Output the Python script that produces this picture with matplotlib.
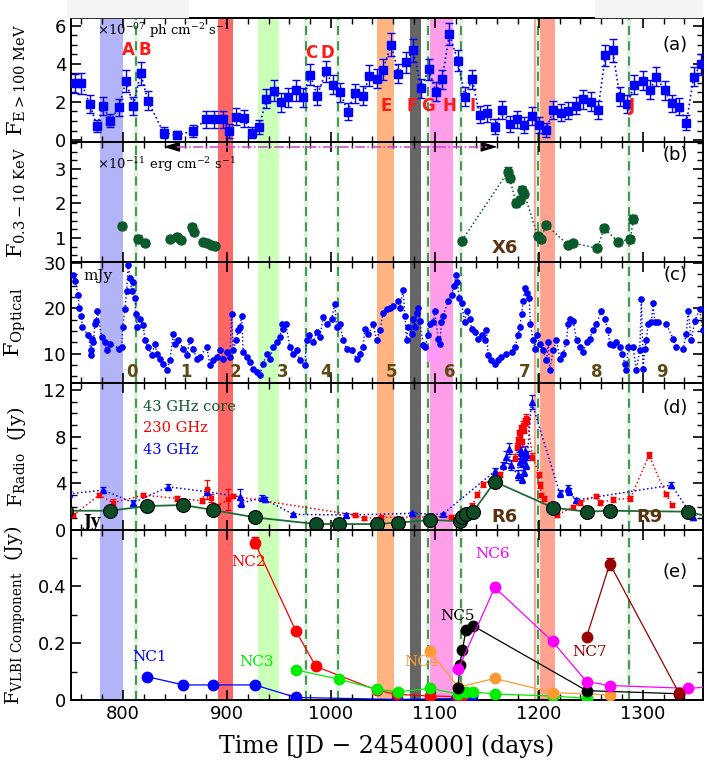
import matplotlib
matplotlib.use('Agg')
import matplotlib.pyplot as plt
from matplotlib.patches import Rectangle
from matplotlib.ticker import MultipleLocator, FuncFormatter

plt.rcParams['font.family'] = 'DejaVu Sans'
plt.rcParams['mathtext.fontset'] = 'dejavuserif'

# ---------------- data ----------------
# panel (a): Fermi gamma-ray flux
gam_day = [754, 760, 768, 775, 781, 788, 796, 803, 810, 817, 824, 839, 852, 867, 880, 888, 896,
           902, 909, 916, 924, 931, 938, 945, 952, 959, 966, 973, 980, 987, 995, 1002, 1009, 1016,
           1023, 1031, 1037, 1044, 1050, 1058, 1065, 1072, 1079, 1087, 1094, 1101, 1107, 1114,
           1122, 1129, 1136, 1143, 1150, 1158, 1165, 1172, 1179, 1186, 1193, 1200, 1207, 1214,
           1221, 1228, 1236, 1243, 1250, 1257, 1264, 1271, 1278, 1285, 1292, 1300, 1307, 1313,
           1321, 1328, 1335, 1342, 1349, 1356]
gam_flux = [2.98, 2.98, 1.89, 0.74, 1.79, 1.02, 1.72, 3.1, 1.79, 3.51, 2.07, 0.39, 0.26, 0.47,
            1.09, 1.09, 1.09, 0.47, 1.23, 1.14, 0.39, 0.68, 2.16, 2.58, 1.98, 2.25, 2.6, 2.25,
            3.42, 2.33, 3.6, 2.89, 2.51, 1.49, 2.46, 2.32, 3.37, 3.21, 3.68, 5.0, 3.47, 4.09,
            4.7, 2.72, 3.72, 2.54, 3.19, 5.56, 4.17, 2.28, 3.19, 1.32, 1.40, 0.7, 1.58, 0.84,
            1.09, 0.79, 1.26, 0.79, 0.53, 1.58, 1.44, 1.54, 1.81, 2.14, 2.02, 1.58, 4.44, 4.7,
            2.28, 1.89, 2.89, 3.12, 2.63, 3.33, 2.6, 1.93, 1.75, 0.91, 3.33, 3.98]
gam_err = [0.5, 0.55, 0.45, 0.3, 0.45, 0.35, 0.45, 0.6, 0.45, 0.6, 0.5, 0.3, 0.2, 0.3,
           0.45, 0.45, 0.45, 0.35, 0.45, 0.45, 0.3, 0.35, 0.5, 0.55, 0.5, 0.5, 0.55, 0.5,
           0.55, 0.5, 0.55, 0.5, 0.5, 0.45, 0.5, 0.5, 0.55, 0.5, 0.55, 0.6, 0.5, 0.55,
           0.6, 0.5, 0.55, 0.5, 0.5, 0.6, 0.55, 0.5, 0.5, 0.45, 0.45, 0.4, 0.45, 0.4,
           0.45, 0.4, 0.45, 0.4, 0.35, 0.45, 0.45, 0.45, 0.45, 0.5, 0.5, 0.45, 0.55, 0.6,
           0.5, 0.45, 0.5, 0.5, 0.5, 0.5, 0.5, 0.45, 0.45, 0.4, 0.5, 0.55]

# panel (b): X-ray 0.3-10 keV
xr_day = [799, 814, 821, 845, 852, 856, 866, 868, 877, 881, 885, 889, 1126, 1170, 1172, 1178,
          1182, 1184, 1186, 1199, 1202, 1207, 1228, 1233, 1256, 1263, 1276, 1288, 1291]
xr_flux = [1.35, 0.97, 0.85, 0.97, 1.04, 0.94, 1.31, 1.18, 0.89, 0.86, 0.80, 0.77, 0.92, 2.9,
           2.73, 2.02, 2.1, 2.39, 2.28, 1.06, 0.96, 1.38, 0.8, 0.85, 0.70, 1.28, 0.89, 0.96, 1.55]
xr_err = [0.07, 0.1, 0.08, 0.06, 0.08, 0.07, 0.1, 0.07, 0.05, 0.05, 0.05, 0.05, 0.05, 0.15,
          0.1, 0.12, 0.1, 0.12, 0.1, 0.08, 0.08, 0.08, 0.06, 0.06, 0.06, 0.1, 0.08, 0.1, 0.12]

# panel (c): optical flux (mJy)
opt_day = [752.2, 754, 757, 757.7, 760, 761, 766.7, 769, 769.5, 769.9, 771.5, 773, 774.5, 775.3,
           779.5, 782.3, 784.3, 787.5, 796.4, 798.7, 799.7, 801.9, 803.5, 805.1, 806.7, 808.4,
           809.9, 811.5, 812.5, 813.8, 816.3, 819.5, 821.2, 824.3, 827.6, 830.8, 832.4, 835.6,
           838.8, 842, 845.2, 848.4, 850, 853.2, 858, 861.3, 864.4, 867.6, 870.9, 874, 880.5,
           883.7, 886.8, 890, 893.3, 896.4, 899.7, 902.9, 904.5, 906.1, 908.7, 910.9, 912.5,
           914.1, 915.7, 919, 922.1, 925.3, 928.6, 931.7, 934.9, 938.2, 941.3, 944.5, 947.8,
           951, 952.6, 954.1, 956.7, 960.6, 963.8, 967, 970.2, 975, 976.6, 979.1, 983, 986.2,
           989.4, 992.6, 995.8, 1000.7, 1003.8, 1005.5, 1008.7, 1011.9, 1015.1, 1019.9, 1024.7,
           1027.9, 1031.1, 1032.7, 1035.9, 1040.7, 1043.9, 1047.1, 1050.3, 1053.6, 1056.7,
           1059.9, 1064.7, 1066.3, 1069.5, 1071.2, 1072.8, 1074.4, 1077.6, 1079.2, 1080.8,
           1082.4, 1084, 1085.6, 1088.8, 1090.4, 1093.6, 1095.2, 1098.4, 1100, 1103.2, 1104.8,
           1106.4, 1108, 1112.8, 1116.1, 1118.3, 1120.2, 1121.5, 1123.4, 1125.7, 1128.8,
           1130.5, 1133.7, 1135.3, 1138.5, 1141.6, 1144.9, 1148.1, 1149.7, 1151.3, 1154.5,
           1157.7, 1160.9, 1164.1, 1168.9, 1173.8, 1176.9, 1180.1, 1181.7, 1183.4, 1184.9,
           1186.5, 1188.2, 1190.7, 1192, 1194.5, 1196.2, 1197.8, 1201, 1204.1, 1207.4, 1209,
           1210.6, 1213.8, 1217, 1220.2, 1223.4, 1226.6, 1228.2, 1229.8, 1233, 1236.3, 1239.4,
           1242.6, 1245.9, 1249, 1252.2, 1255.5, 1260.3, 1263.5, 1266.6, 1268.3, 1271.4,
           1274.7, 1277.9, 1280.4, 1282.7, 1284.3, 1285.9, 1290.7, 1293.9, 1297.1, 1298.7,
           1300.3, 1301.9, 1303.5, 1305.1, 1308.4, 1310, 1311.5, 1314.7, 1322.8, 1329.1,
           1332.4, 1338.8, 1342, 1343.6, 1346.8, 1350, 1354.8, 1357.7]
opt_flux = [27.4, 26.0, 23.0, 20.1, 18.3, 15.8, 14.0, 10.7, 9.6, 13.3, 12.5, 16.5, 17.2, 19.4,
            13.6, 12.5, 10.7, 12.2, 11.1, 11.4, 15.8, 19.8, 23.8, 29.6, 26.7, 23.8,
            25.9, 22.3, 18.7, 15.8, 17.6, 16.2, 12.9, 11.4, 9.6, 12.2, 10.0, 8.9,
            7.8, 6.4, 8.5, 14.3, 12.2, 12.9, 11.1, 9.6, 12.9, 11.1, 8.9, 9.3, 11.4,
            7.5, 8.5, 9.3, 10.7, 8.9, 10.3, 9.3, 18.7, 10.7, 12.9, 15.1, 15.8,
            18.3, 10.3, 9.3, 8.2, 6.7, 6.0, 5.3, 7.8, 10.0, 8.9, 11.4, 12.5,
            13.6, 16.5, 15.4, 16.5, 11.4, 10.0, 10.7, 8.5, 7.5, 12.9, 14.0, 12.5, 14.7,
            13.6, 18.0, 16.5, 17.6, 20.9, 15.8, 16.5, 12.9, 11.1, 10.7, 8.9,
            10.0, 11.4, 15.4, 14.3, 16.5, 12.9, 15.1, 19.0, 19.8, 20.1,
            20.5, 21.6, 20.1, 24.1, 18.3, 12.9, 15.8, 14.3, 17.6, 15.8,
            19.0, 20.1, 17.2, 11.8, 11.4, 14.0, 16.5, 16.9, 19.4, 13.3, 12.2,
            16.9, 18.3, 21.6, 23.0, 24.8, 27.4, 25.9, 22.3, 21.2, 16.9,
            19.4, 17.6, 15.4, 14.7, 13.3, 14.0, 12.9, 15.1, 9.6, 8.5,
            7.8, 8.5, 9.3, 10.0, 10.3, 11.4, 14.0, 15.8, 18.7, 21.6,
            24.5, 23.4, 22.3, 16.5, 12.9, 11.1, 14.0, 12.2, 10.7, 8.5, 12.5,
            6.4, 10.7, 12.9, 8.9, 10.0, 12.5, 16.5, 17.6, 17.2, 12.9, 11.4,
            10.3, 12.5, 13.3, 15.1, 16.5, 19.4, 17.6, 15.1, 12.2, 11.8,
            12.5, 11.4, 10.0, 7.8, 6.4, 11.4, 11.4, 6.4, 10.7, 22.0,
            6.7, 11.1, 12.9, 16.5, 16.9, 21.2, 16.9, 16.9, 16.5, 13.3,
            11.4, 11.1, 14.3, 19.4, 12.9, 17.2, 19.8, 15.1]

# panel (d): radio
core_day = [745, 787.5, 822.8, 858, 886.8, 926.9, 985.6, 1008, 1043.9, 1064.7, 1095.2, 1124,
            1125.7, 1130.4, 1136.8, 1157.7, 1213.8, 1245.9, 1268.3, 1343.6, 1365]
core_flux = [1.65, 1.65, 2.05, 2.14, 1.71, 1.08, 0.51, 0.51, 0.51, 0.63, 0.85, 0.77,
             1.14, 1.34, 1.57, 4.13, 1.91, 1.57, 1.65, 1.57, 1.1]

r230_day = [752.2, 777.2, 790.7, 819.5, 851.6, 875.7, 880.5, 884.3, 890.7, 901.3, 906.1, 1023.1,
            1031.7, 1047.8, 1116, 1124, 1136.2, 1140.7, 1146.5, 1162.5, 1176.9, 1179.2, 1180,
            1181, 1182, 1183, 1184, 1185, 1186, 1187, 1188, 1189, 1193.9, 1200.3, 1201, 1202.5,
            1204.8, 1217.6, 1233, 1239.4, 1254.8, 1258.7, 1271.4, 1288.2, 1306.1, 1322.1, 1328.6]
r230_flux = [1.28, 2.99, 2.34, 2.99, 2.71, 2.51, 3.48, 2.71, 2.05, 2.62, 2.9, 1.28,
             1.0, 1.08, 1.14, 1.42, 2.08, 3.05, 3.9, 4.76, 6.18, 7.12, 7.7,
             8.3, 7.9, 8.7, 7.5, 9.0, 8.6, 9.3, 9.6, 9.4, 6.27, 4.76, 3.85, 2.99,
             2.71, 1.28, 1.99, 2.34, 2.9, 2.34, 2.62, 2.71, 6.41, 3.08, 2.14]
r230_err = [0.2, 0.2, 0.35, 0.2, 0.2, 0.2, 0.8, 0.35, 0.2, 0.9, 0.2, 0.15,
            0.15, 0.15, 0.15, 0.15, 0.2, 0.2, 0.2, 0.25, 0.3, 0.3, 0.3,
            0.3, 0.3, 0.3, 0.3, 0.3, 0.3, 0.3, 0.3, 0.3, 0.3, 0.25, 0.25, 0.2,
            0.2, 0.15, 0.15, 0.2, 0.2, 0.2, 0.2, 0.2, 0.25, 0.2, 0.2]

r43_day = [748, 781.1, 809.9, 843.6, 880.5, 912.5, 913.5, 933.4, 936.5, 963.8, 1014.4, 1077.6,
           1107.4, 1157.7, 1165.1, 1168.9, 1171.4, 1172.8, 1180, 1181, 1182, 1183, 1184, 1185,
           1186, 1187, 1188, 1189, 1193, 1220.2, 1228.2, 1229, 1235.6, 1327.6, 1348.4]
r43_flux = [3.1, 3.42, 2.34, 3.7, 3.28, 2.85, 2.3, 2.76, 2.62, 1.34, 1.28, 1.42,
            1.34, 5.04, 5.56, 6.27, 6.98, 5.56, 4.7, 7.1, 5.8, 6.7, 4.4, 6.1,
            5.0, 6.8, 5.6, 6.4, 11.0, 3.13, 3.56, 3.3, 2.56, 3.85, 1.08]
r43_err = [0.2, 0.25, 0.2, 0.25, 0.25, 0.7, 0.3, 0.2, 0.2, 0.15, 0.15, 0.15,
           0.15, 0.3, 0.3, 0.5, 0.5, 0.4, 0.4, 0.4, 0.4, 0.4, 0.4, 0.4,
           0.4, 0.4, 0.4, 0.4, 0.6, 0.3, 0.3, 0.3, 0.2, 0.25, 0.2]

# panel (e): VLBI components (Jy)
nc1_day = [823.4, 858, 886.8, 926.9, 966.3, 1063.2, 1120, 1124, 1128, 1132, 1136]
nc1_flux = [0.082, 0.053, 0.053, 0.053, 0.009, 0.002, 0.005, 0.012, 0.015, 0.015, 0.015]
nc2_day = [926.9, 966.3, 985.6, 1044, 1063.2, 1095.2, 1122.4, 1125.7]
nc2_flux = [0.553, 0.243, 0.118, 0.035, 0.02, 0.014, 0.012, 0.014]
nc3_day = [966.3, 1008, 1043.9, 1064.7, 1095.2, 1122.4, 1129.8, 1136.8, 1157.7, 1213.2, 1245.9]
nc3_flux = [0.106, 0.073, 0.038, 0.029, 0.041, 0.021, 0.029, 0.029, 0.021, 0.014, 0.006]
nc4_day = [1095.2, 1122.4, 1157.7, 1213.2, 1268.3]
nc4_flux = [0.173, 0.045, 0.076, 0.026, 0.018]
nc5_day = [1122.4, 1124, 1126.6, 1129.8, 1136.8, 1245.9, 1334.9]
nc5_flux = [0.041, 0.124, 0.176, 0.245, 0.261, 0.033, 0.022]
nc6_day = [1122.4, 1157.7, 1213.2, 1245.9, 1268.3, 1343.6, 1365]
nc6_flux = [0.108, 0.396, 0.206, 0.065, 0.051, 0.041, 0.046]
nc7_day = [1245.9, 1268.3, 1334.9]
nc7_flux = [0.221, 0.479, 0.024]

# shaded intervals and dashed epochs
bands = [(778, 800, '#b3b3f8'), (891, 906, '#ff6666'), (929.5, 950.5, '#ccffb8'),
         (1044, 1060.5, '#ffb380'), (1076.5, 1087, '#666666'), (1091.5, 1117, '#ff9ee8'),
         (1195.5, 1216, '#ffa390')]
dash_days = [813, 975.6, 1006.4, 1093.6, 1125.6, 1199.4, 1286.8]

gam_letters = ['A', 'B', 'C', 'D', 'E', 'F', 'G', 'H', 'I', 'J']
letter_day = [804.8, 821.2, 980.8, 997.1, 1052.9, 1077.9, 1093.3, 1114.4, 1136.5, 1289.4]
letter_y = [4.7, 4.7, 4.55, 4.55, 1.79, 1.79, 1.79, 1.79, 1.79, 1.79]
opt_labels = ['0', '1', '2', '3', '4', '5', '6', '7', '8', '9']
opt_label_day = [808.5, 861, 908, 954, 995, 1058, 1114, 1186, 1255.5, 1318]

# ---------------- figure ----------------
fig = plt.figure(figsize=(7.07, 7.70), dpi=100)
L, W = 0.1004, 0.894
ax_a = fig.add_axes([L, 0.8156, W, 0.1610])
ax_b = fig.add_axes([L, 0.6597, W, 0.1559])
ax_c = fig.add_axes([L, 0.5026, W, 0.1571])
ax_d = fig.add_axes([L, 0.3117, W, 0.1909])
ax_e = fig.add_axes([L, 0.0909, W, 0.2208])
axes = [ax_a, ax_b, ax_c, ax_d, ax_e]

# faint boxes at the very top of the page
fig.patches.append(Rectangle((67 / 707, 1 - 17 / 770), 121 / 707, 17 / 770,
                             transform=fig.transFigure, color='#f4f4f4', zorder=0))
fig.patches.append(Rectangle((595 / 707, 1 - 17 / 770), 107 / 707, 17 / 770,
                             transform=fig.transFigure, color='#f4f4f4', zorder=0))

ylims = [(-0.1, 6.4), (0.3, 3.78), (3.5, 30.2), (0, 12.6), (0, 0.598)]
ymaj = [2, 1, 10, 4, 0.2]
ymin = [0.5, 0.25, 2.5, 1, 0.1]
ylabels = [r'F$_{\mathrm{E>100\ MeV}}$', r'F$_{\mathrm{0.3-10\ KeV}}$',
           r'F$_{\mathrm{Optical}}$', r'F$_{\mathrm{Radio}}$  (Jy)',
           r'F$_{\mathrm{VLBI\ Component}}$  (Jy)']
ylabel_size = [15, 15, 15, 14, 14]
tags = ['(a)', '(b)', '(c)', '(d)', '(e)']
tag_y = [0.78, 0.89, 0.89, 0.83, 0.75]

for i, ax in enumerate(axes):
    ax.set_xlim(750, 1358)
    ax.set_ylim(*ylims[i])
    ax.xaxis.set_major_locator(MultipleLocator(100))
    ax.xaxis.set_minor_locator(MultipleLocator(20))
    ax.yaxis.set_major_locator(MultipleLocator(ymaj[i]))
    ax.yaxis.set_minor_locator(MultipleLocator(ymin[i]))
    ax.tick_params(which='both', direction='in', top=True, right=True, labelsize=13)
    ax.tick_params(which='major', length=7, width=1.2)
    ax.tick_params(which='minor', length=4, width=1.0)
    if i < 4:
        ax.tick_params(labelbottom=False)
    for s in ax.spines.values():
        s.set_linewidth(1.4)
    for lo, hi, c in bands:
        ax.axvspan(lo, hi, color=c, lw=0, zorder=0)
    for d in dash_days:
        ax.axvline(d, color='#e2f2e2', lw=3, zorder=0.5)
        ax.axvline(d, color='#1e7a2a', lw=1.1, ls=(0, (6, 4)), zorder=0.6)
    ax.set_ylabel(ylabels[i], fontsize=ylabel_size[i], family='DejaVu Serif')
    ax.yaxis.set_label_coords(-0.068, 0.5)
    ax.text(0.956, tag_y[i], tags[i], transform=ax.transAxes, fontsize=13,
            ha='center', va='center')

ax_e.yaxis.set_major_formatter(FuncFormatter(lambda v, p: '0' if abs(v) < 1e-9 else f'{v:.1f}'))
ax_e.set_xlabel('Time [JD \u2212 2454000] (days)', fontsize=17, family='DejaVu Serif',
                labelpad=8)

# (a) gamma rays
ax_a.plot(gam_day, gam_flux, ':', color='#0000ff', lw=1.2, zorder=2)
ax_a.errorbar(gam_day, gam_flux, yerr=gam_err, fmt='s', color='#0000ff', ms=5.5,
              elinewidth=1, capsize=3, capthick=1, zorder=3)
ax_a.text(0.041, 0.9, r'$\times 10^{-07}$ ph cm$^{-2}$ s$^{-1}$', transform=ax_a.transAxes,
          fontsize=9.5, family='DejaVu Serif', va='center')
for t, x, y in zip(gam_letters, letter_day, letter_y):
    ax_a.text(x, y, t, color='#ff1a1a', fontsize=12, fontweight='bold', ha='center',
              va='center', zorder=4)

# (b) X-rays
ax_b.plot(xr_day[12:], xr_flux[12:], ':', color='#0b5a2b', lw=1.1, zorder=2)
ax_b.errorbar(xr_day, xr_flux, yerr=xr_err, fmt='o', color='#0b5a2b', ms=6.5,
              elinewidth=1, capsize=3, capthick=1, zorder=3)
ax_b.text(0.041, 0.81, r'$\times 10^{-11}$ erg cm$^{-2}$ s$^{-1}$', transform=ax_b.transAxes,
          fontsize=9.5, family='DejaVu Serif', va='center')
ax_b.text(1167, 0.71, 'X6', color='#5c3310', fontsize=13, fontweight='bold', ha='center',
          va='center')
ax_b.plot([852, 1150], [3.64, 3.64], color='#cc44cc', ls='-.', lw=1.1, clip_on=False, zorder=5)
ax_b.annotate('', xy=(836, 3.64), xytext=(856, 3.64), annotation_clip=False,
              arrowprops=dict(arrowstyle='-|>,head_length=1.0,head_width=0.3', color='black',
                              lw=1))
ax_b.annotate('', xy=(1163, 3.64), xytext=(1143, 3.64), annotation_clip=False,
              arrowprops=dict(arrowstyle='-|>,head_length=1.0,head_width=0.3', color='black',
                              lw=1))

# (c) optical
ax_c.add_patch(Rectangle((1092, 8.1), 12.5, 3.3, color='#ff99ff', lw=0, zorder=1))
ax_c.plot(opt_day, opt_flux, ':', color='#0000ff', lw=1.0, zorder=2)
ax_c.plot(opt_day, opt_flux, 'o', color='#0000ff', ms=3.8, zorder=3)
ax_c.text(0.02, 0.885, 'mJy', transform=ax_c.transAxes, fontsize=11, family='DejaVu Serif',
          va='center')
for t, x in zip(opt_labels, opt_label_day):
    ax_c.text(x, 6.0, t, color='#5c4a12', fontsize=12, fontweight='bold', ha='center',
              va='center', zorder=4)

# (d) radio
ax_d.plot(r43_day, r43_flux, ':', color='#0000ff', lw=1.1, zorder=2)
ax_d.errorbar(r43_day, r43_flux, yerr=r43_err, fmt='^', color='#0000ff', ms=4.5,
              elinewidth=0.9, capsize=2.5, capthick=0.9, zorder=3)
ax_d.plot(r230_day, r230_flux, ':', color='#ff0000', lw=1.1, zorder=2)
ax_d.errorbar(r230_day, r230_flux, yerr=r230_err, fmt='s', color='#ff0000', ms=3.5,
              elinewidth=0.9, capsize=2.5, capthick=0.9, zorder=3)
ax_d.plot(core_day, core_flux, '-', color='#1e6b3a', lw=1.3, zorder=4)
ax_d.plot(core_day, core_flux, 'o', ms=10, mfc='#0d4d26', mec='black', mew=0.8, zorder=5)
ax_d.text(0.114, 0.837, '43 GHz core', transform=ax_d.transAxes, color='#0b5a2b', fontsize=10.5,
          family='DejaVu Serif', va='center')
ax_d.text(0.114, 0.694, '230 GHz', transform=ax_d.transAxes, color='#ff0000', fontsize=10.5,
          family='DejaVu Serif', va='center')
ax_d.text(0.114, 0.544, '43 GHz', transform=ax_d.transAxes, color='#0000ff', fontsize=10.5,
          family='DejaVu Serif', va='center')
ax_d.text(0.02, 0.06, 'Jy', transform=ax_d.transAxes, fontsize=12, fontweight='bold',
          family='DejaVu Serif', va='center')
ax_d.text(1167, 1.14, 'R6', color='#5c3310', fontsize=13, fontweight='bold', ha='center',
          va='center', zorder=6)
ax_d.text(1306.7, 1.14, 'R9', color='#5c3310', fontsize=13, fontweight='bold', ha='center',
          va='center', zorder=6)

# (e) VLBI components
comps = [(nc1_day, nc1_flux, '#0000ff', 'NC1', 826, 0.152),
         (nc2_day, nc2_flux, '#ff0000', 'NC2', 921.2, 0.487),
         (nc3_day, nc3_flux, '#00ee00', 'NC3', 928.8, 0.134),
         (nc4_day, nc4_flux, '#ff9933', 'NC4', 1087.2, 0.135),
         (nc5_day, nc5_flux, '#000000', 'NC5', 1122.1, 0.296),
         (nc6_day, nc6_flux, '#ff00ff', 'NC6', 1155.8, 0.512),
         (nc7_day, nc7_flux, '#990000', 'NC7', 1249, 0.170)]
for days, flux, c, name, tx, ty in comps:
    ax_e.plot(days, flux, '-o', color=c, lw=0.9, ms=7.5, zorder=3)
    ax_e.text(tx, ty, name, color=c, fontsize=11, family='DejaVu Serif', ha='center',
              va='center', zorder=4)
# error bars on the peak points
for days, flux, c, idx, e in [(nc2_day, nc2_flux, '#ff0000', 0, 0.02),
                              (nc6_day, nc6_flux, '#ff00ff', 1, 0.015),
                              (nc7_day, nc7_flux, '#990000', 1, 0.02)]:
    ax_e.errorbar([days[idx]], [flux[idx]], yerr=[e], fmt='none', ecolor=c,
                  elinewidth=0.9, capsize=3, zorder=3)

fig.savefig('out.png', dpi=100)
